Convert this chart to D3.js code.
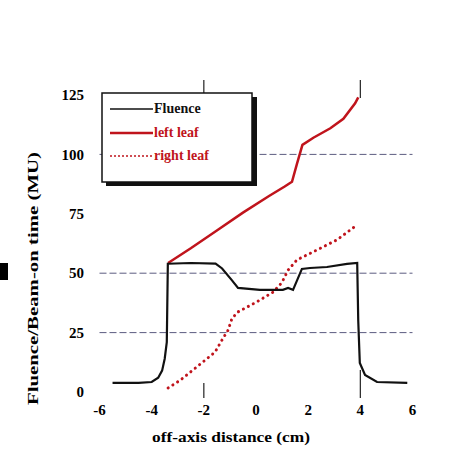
<!DOCTYPE html>
<html>
<head>
<meta charset="utf-8">
<script src="https://cdn.jsdelivr.net/npm/d3@7"></script>
<style>
  body { margin: 0; background: #fff; }
  svg text { font-family: "Liberation Serif", "Times New Roman", serif; font-weight: bold; }
</style>
</head>
<body>
<div id="chart"></div>
<script>
// values
const xTicks = [-6, -4, -2, 0, 2, 4, 6];
const yTicks = [0, 25, 50, 75, 100, 125];
const gridValues = [25, 50, 100];

const fluenceX = [-5.5, -4.5, -4.0, -3.75, -3.6, -3.5, -3.42, -3.38, -2.5, -1.55, -1.3, -0.92, -0.69, 0.15, 1.03, 1.23, 1.42, 1.76, 2.07, 2.72, 3.49, 3.88, 3.92, 3.98, 4.18, 4.64, 5.8];
const fluenceY = [3.8, 3.8, 4.2, 6, 9, 14, 21, 54, 54.3, 54, 52, 47, 43.8, 43, 43, 43.8, 43, 51.8, 52.2, 52.6, 53.9, 54.3, 30, 12.2, 7.2, 4.2, 3.8];

const leftLeafX = [-3.37, -2.5, -1.5, -0.5, 0.5, 1.1, 1.38, 1.57, 1.78, 2.2, 2.85, 3.35, 3.8, 3.92];
const leftLeafY = [54.3, 60.5, 68, 75.5, 82.5, 86.5, 88.5, 96, 104, 107, 111, 115, 121.5, 124];

const rightLeafX = [-3.37, -2.9, -2.41, -1.57, -1.26, -1.07, -0.92, -0.69, 0.04, 0.65, 0.99, 1.23, 1.57, 2.34, 3.1, 3.87];
const rightLeafY = [1.7, 5, 9.3, 16.8, 22.7, 26, 31, 33.7, 38, 42, 46, 51.3, 55.6, 59.8, 64, 70.3];

const legendLabels = ["Fluence", "left leaf", "right leaf"];
const markerX = [-2, 4];

const width = 465, height = 456;
const red = "#c0141c";

const svg = d3.select("#chart").append("svg")
  .attr("width", width)
  .attr("height", height);

const x = d3.scaleLinear().domain([-6, 6]).range([99.5, 412.5]);
const y = d3.scaleLinear().domain([0, 125]).range([392, 95]);

// dashed reference lines
svg.append("g")
  .selectAll("line")
  .data(gridValues)
  .join("line")
  .attr("x1", x(-6))
  .attr("x2", x(6))
  .attr("y1", d => y(d))
  .attr("y2", d => y(d))
  .attr("stroke", "#5c5c80")
  .attr("stroke-width", 1)
  .attr("stroke-dasharray", "7,3");

// y tick labels
svg.append("g")
  .selectAll("text")
  .data(yTicks)
  .join("text")
  .attr("x", 84)
  .attr("y", d => y(d))
  .attr("dy", "0.35em")
  .attr("text-anchor", "end")
  .attr("font-size", 15)
  .text(d => d);

// x tick labels
svg.append("g")
  .selectAll("text")
  .data(xTicks)
  .join("text")
  .attr("x", d => x(d))
  .attr("y", 415)
  .attr("text-anchor", "middle")
  .attr("font-size", 15)
  .text(d => d);

// small marks at x = -2 and x = 4, top and bottom
const marks = svg.append("g").attr("stroke", "#222").attr("stroke-width", 1.2);
marks.selectAll("line.bot")
  .data(markerX)
  .join("line")
  .attr("class", "bot")
  .attr("x1", d => x(d)).attr("x2", d => x(d))
  .attr("y1", d => d === 4 ? 370 : 383)
  .attr("y2", 398);
marks.selectAll("line.top")
  .data(markerX)
  .join("line")
  .attr("class", "top")
  .attr("x1", d => x(d)).attr("x2", d => x(d))
  .attr("y1", d => d === 4 ? 80 : 80)
  .attr("y2", d => d === 4 ? 98 : 93);

const line = d3.line().x(d => x(d[0])).y(d => y(d[1]));

// right leaf (dotted)
svg.append("path")
  .datum(d3.zip(rightLeafX, rightLeafY))
  .attr("d", line)
  .attr("fill", "none")
  .attr("stroke", red)
  .attr("stroke-width", 3)
  .attr("stroke-linecap", "round")
  .attr("stroke-dasharray", "0.1,5.5");

// left leaf
svg.append("path")
  .datum(d3.zip(leftLeafX, leftLeafY))
  .attr("d", line)
  .attr("fill", "none")
  .attr("stroke", red)
  .attr("stroke-width", 2.5);

// fluence
svg.append("path")
  .datum(d3.zip(fluenceX, fluenceY))
  .attr("d", line)
  .attr("fill", "none")
  .attr("stroke", "#111")
  .attr("stroke-width", 2.2);

// legend with shadow
const lg = svg.append("g");
lg.append("rect")
  .attr("x", 106).attr("y", 97)
  .attr("width", 151).attr("height", 89)
  .attr("fill", "#111");
lg.append("rect")
  .attr("x", 102).attr("y", 93)
  .attr("width", 150).attr("height", 89)
  .attr("fill", "#fff")
  .attr("stroke", "#111")
  .attr("stroke-width", 1.5);

const legendY = [113, 137, 160];
const legendStyle = [
  { color: "#111", dash: null, width: 1.5 },
  { color: red, dash: null, width: 2.5 },
  { color: red, dash: "2,2", width: 1.5 }
];
legendLabels.forEach((label, i) => {
  lg.append("line")
    .attr("x1", 110).attr("x2", 153)
    .attr("y1", legendY[i] - 4).attr("y2", legendY[i] - 4)
    .attr("stroke", legendStyle[i].color)
    .attr("stroke-width", legendStyle[i].width)
    .attr("stroke-dasharray", legendStyle[i].dash);
  lg.append("text")
    .attr("x", 154)
    .attr("y", legendY[i])
    .attr("font-size", 14)
    .attr("fill", i === 0 ? "#111" : red)
    .text(label);
});

// axis titles
svg.append("text")
  .attr("x", 152)
  .attr("y", 442)
  .attr("font-size", 15)
  .attr("textLength", 158)
  .attr("lengthAdjust", "spacingAndGlyphs")
  .text("off-axis distance  (cm)");

svg.append("text")
  .attr("transform", "translate(38,405) rotate(-90)")
  .attr("font-size", 15)
  .attr("textLength", 253)
  .attr("lengthAdjust", "spacingAndGlyphs")
  .text("Fluence/Beam-on time (MU)");

// stray black square at the left edge
svg.append("rect")
  .attr("x", 0).attr("y", 263)
  .attr("width", 8).attr("height", 17)
  .attr("fill", "#000");
</script>
</body>
</html>
